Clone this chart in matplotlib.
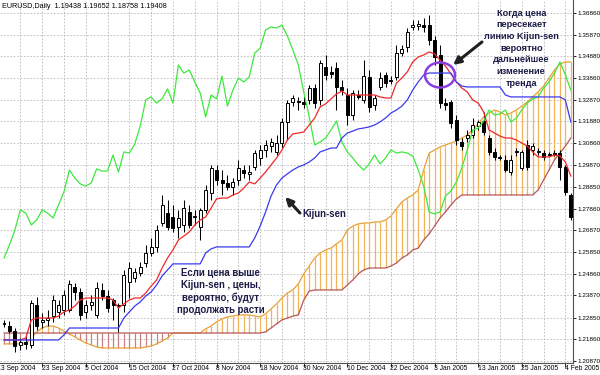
import matplotlib
matplotlib.use("Agg")
import matplotlib.pyplot as plt
from matplotlib.patches import Ellipse
import numpy as np

# ---------------- data ----------------
opens = [1.2260,1.2246,1.2223,1.2159,1.2173,1.2159,1.2343,1.2265,1.2274,1.2292,
         1.2311,1.2320,1.2320,1.2426,1.2403,1.2311,1.2343,1.2297,1.2412,1.2384,
         1.2366,1.2343,1.2343,1.2449,1.2467,1.2490,1.2536,1.2582,1.2610,1.2720,
         1.2766,1.2748,1.2702,1.2711,1.2771,1.2748,1.2702,1.2780,1.2858,1.2964,
         1.2918,1.2904,1.2886,1.2918,1.2964,1.2946,1.2978,1.3019,1.3056,1.3074,
         1.3047,1.3088,1.3185,1.3277,1.3281,1.3277,1.3286,1.3341,1.3286,1.3438,
         1.3415,1.3433,1.3346,1.3309,1.3217,1.3309,1.3286,1.3392,1.3263,1.3346,
         1.3401,1.3378,1.3392,1.3502,1.3530,1.3622,1.3626,1.3631,1.3631,1.3562,
         1.3493,1.3272,1.3277,1.3194,1.3093,1.3111,1.3125,1.3166,1.3189,1.3111,
         1.3047,1.3024,1.3010,1.2955,1.3047,1.2973,1.3079,1.3056,1.3047,1.3042,
         1.3038,1.3042,1.3042,1.2978,1.2849]
highs = [1.2274,1.2269,1.2237,1.2191,1.2196,1.2366,1.2380,1.2306,1.2320,1.2389,
         1.2366,1.2412,1.2458,1.2444,1.2421,1.2366,1.2389,1.2449,1.2444,1.2412,
         1.2375,1.2352,1.2504,1.2541,1.2513,1.2541,1.2619,1.2651,1.2711,1.2849,
         1.2826,1.2803,1.2780,1.2826,1.2803,1.2780,1.2789,1.2895,1.2987,1.2987,
         1.2964,1.2941,1.2927,1.3010,1.2987,1.2987,1.3056,1.3079,1.3102,1.3111,
         1.3125,1.3203,1.3286,1.3309,1.3300,1.3304,1.3355,1.3360,1.3470,1.3493,
         1.3442,1.3461,1.3378,1.3341,1.3332,1.3332,1.3470,1.3424,1.3309,1.3415,
         1.3415,1.3396,1.3539,1.3539,1.3617,1.3654,1.3654,1.3663,1.3677,1.3580,
         1.3539,1.3295,1.3286,1.3217,1.3111,1.3148,1.3203,1.3194,1.3231,1.3125,
         1.3065,1.3033,1.3033,1.3033,1.3065,1.3056,1.3102,1.3088,1.3065,1.3056,
         1.3047,1.3056,1.3056,1.2987,1.2858]
lows = [1.2242,1.2214,1.2127,1.2136,1.2141,1.2145,1.2228,1.2237,1.2246,1.2265,
        1.2283,1.2297,1.2311,1.2366,1.2274,1.2283,1.2320,1.2283,1.2366,1.2311,
        1.2274,1.2219,1.2311,1.2375,1.2449,1.2476,1.2518,1.2568,1.2587,1.2706,
        1.2688,1.2679,1.2651,1.2679,1.2697,1.2711,1.2642,1.2766,1.2826,1.2895,
        1.2849,1.2872,1.2849,1.2895,1.2927,1.2918,1.2964,1.2987,1.3024,1.3047,
        1.3033,1.3065,1.3102,1.3258,1.3240,1.3249,1.3268,1.3249,1.3263,1.3378,
        1.3387,1.3240,1.3309,1.3171,1.3194,1.3291,1.3272,1.3231,1.3240,1.3332,
        1.3346,1.3360,1.3378,1.3488,1.3507,1.3608,1.3608,1.3599,1.3539,1.3447,
        1.3249,1.3240,1.3157,1.3079,1.3056,1.3093,1.3111,1.3148,1.3125,1.3033,
        1.3010,1.3010,1.2955,1.2941,1.3028,1.2964,1.2964,1.3033,1.3033,1.3010,
        1.3028,1.3028,1.2918,1.2849,1.2734]
closes = [1.2256,1.2223,1.2154,1.2173,1.2164,1.2352,1.2246,1.2274,1.2283,1.2366,
          1.2343,1.2389,1.2440,1.2403,1.2297,1.2343,1.2357,1.2421,1.2384,1.2329,
          1.2343,1.2338,1.2481,1.2513,1.2495,1.2518,1.2582,1.2610,1.2688,1.2803,
          1.2702,1.2697,1.2743,1.2789,1.2711,1.2752,1.2780,1.2872,1.2973,1.2918,
          1.2904,1.2886,1.2909,1.2973,1.2950,1.2955,1.3042,1.3056,1.3079,1.3093,
          1.3088,1.3185,1.3272,1.3295,1.3277,1.3268,1.3341,1.3272,1.3456,1.3401,
          1.3406,1.3346,1.3332,1.3217,1.3318,1.3300,1.3396,1.3254,1.3295,1.3387,
          1.3364,1.3373,1.3502,1.3521,1.3599,1.3631,1.3636,1.3622,1.3562,1.3484,
          1.3272,1.3263,1.3180,1.3102,1.3074,1.3125,1.3171,1.3185,1.3139,1.3047,
          1.3024,1.3019,1.2964,1.3010,1.3051,1.3047,1.2978,1.3074,1.3051,1.3024,
          1.3033,1.3033,1.2978,1.2863,1.2748]

tenkan = [1.2182,1.2182,1.2182,1.2182,1.2191,1.2274,1.2283,1.2283,1.2283,1.2283,
          1.2292,1.2311,1.2320,1.2338,1.2366,1.2375,1.2375,1.2375,1.2375,1.2375,
          1.2366,1.2329,1.2348,1.2366,1.2375,1.2375,1.2398,1.2430,1.2458,1.2513,
          1.2559,1.2596,1.2642,1.2660,1.2679,1.2711,1.2734,1.2748,1.2789,1.2831,
          1.2835,1.2835,1.2849,1.2858,1.2881,1.2909,1.2900,1.2927,1.2955,1.2987,
          1.3019,1.3056,1.3102,1.3130,1.3134,1.3139,1.3171,1.3203,1.3254,1.3268,
          1.3291,1.3314,1.3327,1.3309,1.3309,1.3309,1.3309,1.3309,1.3309,1.3300,
          1.3295,1.3295,1.3364,1.3387,1.3415,1.3461,1.3484,1.3493,1.3507,1.3498,
          1.3470,1.3442,1.3406,1.3369,1.3341,1.3323,1.3286,1.3272,1.3231,1.3148,
          1.3134,1.3120,1.3111,1.3111,1.3102,1.3088,1.3074,1.3047,1.3024,1.3024,
          1.3024,1.3033,1.3028,1.3001,1.2936]
kijun = [1.2182]*11 + [1.2205] + [1.2237]*10 + \
        [1.2283,1.2311,1.2338,1.2357,1.2384,1.2403,1.2435,1.2476,1.2504] + [1.2532]*6 + \
        [1.2582,1.2601] + [1.2610]*7 + \
        [1.2651,1.2706,1.2771,1.2844,1.2895,1.2927,1.2946,1.2964,1.2978,1.2987,
         1.3001,1.3019,1.3047,1.3056,1.3065,1.3065,1.3111,1.3134,1.3143,1.3153,
         1.3157,1.3162,1.3171,1.3185,1.3203,1.3226,1.3240,1.3258,1.3286,1.3332,
         1.3369,1.3401] + [1.3410]*5 + [1.3369,1.3350] + [1.3346]*7 + [1.3309] + \
        [1.3300]*10 + [1.3286,1.3185]
chikou = [1.2559,1.2619,1.2688,1.2780,1.2766,1.2711,1.2734,1.2780,1.2766,1.2743,
          1.2803,1.2863,1.2964,1.2927,1.2900,1.2890,1.2904,1.2969,1.2959,1.2959,
          1.3033,1.2955,1.3047,1.3042,1.3084,1.3166,1.3286,1.3300,1.3272,1.3291,
          1.3337,1.3272,1.3447,1.3410,1.3424,1.3369,1.3318,1.3208,1.3309,1.3291,
          1.3396,1.3258,1.3332,1.3387,1.3369,1.3392,1.3502,1.3525,1.3608,1.3622,
          1.3617,1.3631,1.3580,1.3516,1.3447,1.3323,1.3208,1.3079,1.3093,1.3111,
          1.3148,1.3189,1.3093,1.3047,1.3019,1.2987,1.2964,1.2992,1.3033,1.2992,
          1.3019,1.3056,1.3042,1.3047,1.3042,1.3028,1.2964,1.2890,1.2771,1.2762,
          1.2771,1.2844,1.2867,1.2909,1.2973,1.3056,1.3148,1.3157,1.3189,1.3240,
          1.3217,1.3222,1.3240,1.3185,1.3203,1.3240,1.3272,1.3291,1.3300,1.3341,
          1.3369,1.3410,1.3461,1.3401,1.3332]
span_a = [1.2164]*5 + [1.2191,1.2219,1.2237,1.2246,1.2246,1.2237,1.2223,1.2210,1.2196,1.2182,
          1.2168,1.2159,1.2150] + [1.2145]*8 + [1.2150,1.2154,1.2164,1.2177,1.2191] + [1.2214]*6 + \
         [1.2233,1.2246,1.2265,1.2279,1.2288,1.2292,1.2297,1.2297,1.2297,1.2292,
          1.2288,1.2302,1.2325,1.2348,1.2375,1.2398,1.2412,1.2440,1.2486,1.2522,
          1.2559,1.2582,1.2596,1.2605,1.2624,1.2642,1.2688,1.2706,1.2716,1.2720,
          1.2720,1.2725,1.2725,1.2734,1.2752,1.2785,1.2817,1.2835,1.2849,1.2872,
          1.2964,1.3042,1.3056,1.3070,1.3079,1.3088,1.3097,1.3111,1.3125,1.3148,
          1.3176,1.3208,1.3226,1.3240,1.3231,1.3217,1.3226,1.3240,1.3258,1.3277,
          1.3300,1.3323,1.3350,1.3387,1.3424,1.3452,1.3461,1.3461]
span_b = [1.2214]*48 + [1.2219,1.2237,1.2256,1.2274,1.2283,1.2292,1.2297,1.2366,1.2407] + \
         [1.2412]*6 + [1.2435,1.2458,1.2486,1.2504] + [1.2513]*4 + \
         [1.2522,1.2536,1.2559,1.2573,1.2596,1.2605,1.2642,1.2670,1.2706,1.2743,
          1.2771,1.2803,1.2831] + [1.2849]*14 + [1.2872,1.2918,1.2964,1.3010,1.3042,1.3074,1.3111]

date_pos = [-1, 7, 15, 23, 31, 39, 47, 55, 63, 71, 79, 87, 95, 103]
date_labels = ["13 Sep 2004", "23 Sep 2004", "5 Oct 2004", "15 Oct 2004", "27 Oct 2004",
               "8 Nov 2004", "18 Nov 2004", "30 Nov 2004", "10 Dec 2004", "22 Dec 2004",
               "3 Jan 2005", "13 Jan 2005", "25 Jan 2005", "4 Feb 2005"]
price_labels = ["1.36860", "1.35870", "1.34880", "1.33860", "1.32870", "1.31880",
                "1.30860", "1.29870", "1.28850", "1.27860", "1.26870", "1.25850",
                "1.24860", "1.23870", "1.22850", "1.21860", "1.20870"]

title = "EURUSD,Daily  1.19438 1.19652 1.18758 1.19408"
note1 = "Когда цена\nпересекает\nлинию Kijun-sen\nвероятно\nдальнейшее\nизменение\nтренда"
note2 = "Если цена выше\nKijun-sen , цены,\nвероятно, будут\nпродолжать расти"
note3 = "Kijun-sen"

# ---------------- plot ----------------
n = len(closes)
x = np.arange(n)
o = np.array(opens); h = np.array(highs); l = np.array(lows); c = np.array(closes)
a = np.array(span_a); b = np.array(span_b)

small_font = ["Liberation Sans", "DejaVu Sans"]

fig = plt.figure(figsize=(6, 3.75), dpi=100)
ax = fig.add_axes([0, 12/375, 573/600, 363/375])
ax.set_xlim(-0.734, 104.4)
ax.set_ylim(1.2076, 1.3746)

# grid
yt = [float(s) for s in price_labels]
for v in yt:
    ax.axhline(v, color="#b8b8b8", lw=0.6, ls=(0, (2, 2)), zorder=0)
for gx in range(3, n, 4):
    ax.axvline(gx, color="#b8b8b8", lw=0.6, ls=(0, (2, 2)), zorder=0)

# cloud hatch
up = a >= b
ax.vlines(x[up], b[up], a[up], color="#f2b45a", lw=0.9, zorder=1)
ax.vlines(x[~up], a[~up], b[~up], color="#c98080", lw=0.9, zorder=1)
ax.plot(x, a, color="#e8a035", lw=0.9, zorder=2)
ax.plot(x, b, color="#b85858", lw=0.9, zorder=2)

# candles
ax.vlines(x, l, h, color="black", lw=0.75, zorder=3)
bull = c >= o
body_w = 0.55
ax.bar(x[bull], (c - o)[bull], bottom=o[bull], width=body_w, color="white",
       edgecolor="black", linewidth=0.7, zorder=4)
ax.bar(x[~bull], (o - c)[~bull], bottom=c[~bull], width=body_w, color="black",
       edgecolor="black", linewidth=0.7, zorder=4)

# ichimoku lines
ax.plot(x, chikou, color="#3ee83e", lw=0.9, zorder=5)
ax.plot(x, tenkan, color="#f02828", lw=0.9, zorder=5)
ax.plot(x, kijun, color="#3a3af0", lw=0.9, zorder=5)

# annotations
txt_color = "#1c1c48"
ax.text(94.9, 1.3525, note1, ha="center", va="center", fontsize=6.6,
        fontweight="bold", color=txt_color, linespacing=1.38,
        family=small_font, zorder=7)
ax.text(39.8, 1.2405, note2, ha="center", va="center", fontsize=6.9,
        fontweight="bold", color=txt_color, linespacing=1.28,
        family=small_font, zorder=7)
ax.text(54.8, 1.2762, note3, ha="left", va="center", fontsize=6.9,
        fontweight="bold", color=txt_color, family=small_font, zorder=7)
ax.annotate("", xy=(51.6, 1.2840), xytext=(54.3, 1.2766),
            arrowprops=dict(arrowstyle="-|>", color="#202020", lw=2.2,
                            mutation_scale=11, shrinkA=0, shrinkB=0), zorder=7)
ax.annotate("", xy=(82.4, 1.3447), xytext=(87.7, 1.3553),
            arrowprops=dict(arrowstyle="-|>", color="#202020", lw=2.2,
                            mutation_scale=11, shrinkA=0, shrinkB=0), zorder=7)
ax.add_patch(Ellipse((80.0, 1.3401), width=5.5, height=0.0115, fill=False,
                     edgecolor="#8a3ee0", lw=1.8, zorder=8))

# axes styling
for s in ["top", "left"]:
    ax.spines[s].set_visible(False)
for s in ["right", "bottom"]:
    ax.spines[s].set_color("#505050")
    ax.spines[s].set_linewidth(0.8)
ax.yaxis.tick_right()
ax.set_yticks(yt)
ax.set_yticklabels(price_labels, fontsize=4.6, family=small_font)
ax.tick_params(axis="y", length=2.5, width=0.6, pad=1.0, colors="black")
ax.set_xticks([p for p in date_pos if p >= 0])
ax.set_xticklabels([])
ax.tick_params(axis="x", length=3, width=0.6, direction="out")
for p, lab in zip(date_pos, date_labels):
    off = -0.35 if p < 0 else -0.1
    ax.text(p + off, -0.006, lab, transform=ax.get_xaxis_transform(),
            ha="left", va="top", fontsize=4.9, family=small_font, clip_on=False)

fig.text(2/600, 1 - 6/375, title, ha="left", va="center", fontsize=5.2,
         family=small_font)

fig.savefig("out.png", dpi=100, facecolor="white")
